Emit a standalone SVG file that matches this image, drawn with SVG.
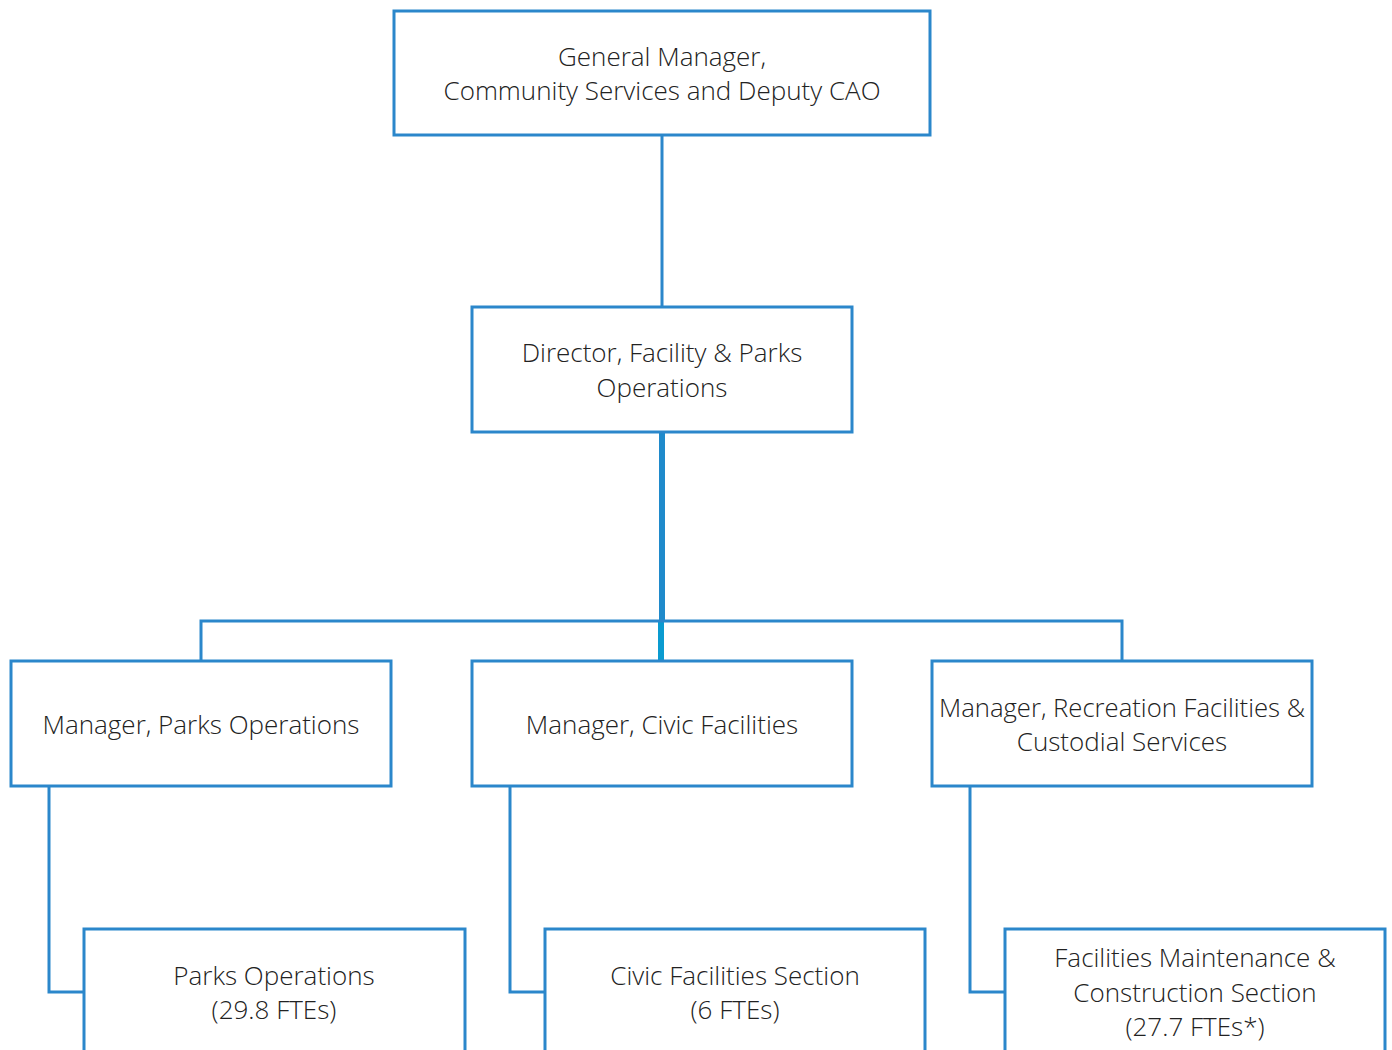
<svg xmlns="http://www.w3.org/2000/svg" width="1392" height="1050" viewBox="0 0 1392 1050">
<style>
.box{fill:#fff;stroke:#2b87cb;stroke-width:3}
.ln{fill:none;stroke:#2b87cb;stroke-width:3}
text{font-family:"Open Sans","Liberation Sans",sans-serif;font-weight:300;font-size:26px;fill:#222;text-anchor:middle;dominant-baseline:central}
</style>
<rect width="1392" height="1050" fill="#fff"/>
<g id="connectors">
<line class="ln" x1="662" y1="135" x2="662" y2="307"/>
<line x1="662" y1="432" x2="662" y2="621" stroke="#1f8acb" stroke-width="6"/>
<line x1="661" y1="621" x2="661" y2="661" stroke="#0a9bd0" stroke-width="6"/>
<polyline class="ln" points="201,661 201,621 1122,621 1122,661"/>
<polyline class="ln" points="49,786 49,992 84,992"/>
<polyline class="ln" points="510,786 510,992 545,992"/>
<polyline class="ln" points="970,786 970,992 1005,992"/>
</g>
<g id="gm">
<rect class="box" x="394" y="11" width="536" height="124"/>
<text x="662" y="56">General Manager,</text>
<text x="662" y="90">Community Services and Deputy CAO</text>
</g>
<g id="director">
<rect class="box" x="472" y="307" width="380" height="125"/>
<text x="662" y="352">Director, Facility &amp; Parks</text>
<text x="662" y="387">Operations</text>
</g>
<g id="mgr-parks">
<rect class="box" x="11" y="661" width="380" height="125"/>
<text x="201" y="724">Manager, Parks Operations</text>
</g>
<g id="mgr-civic">
<rect class="box" x="472" y="661" width="380" height="125"/>
<text x="662" y="724">Manager, Civic Facilities</text>
</g>
<g id="mgr-rec">
<rect class="box" x="932" y="661" width="380" height="125"/>
<text x="1122" y="707" textLength="366" lengthAdjust="spacingAndGlyphs">Manager, Recreation Facilities &amp;</text>
<text x="1122" y="741">Custodial Services</text>
</g>
<g id="parks-ops">
<rect class="box" x="84" y="929" width="381" height="140"/>
<text x="274" y="975">Parks Operations</text>
<text x="274" y="1009">(29.8 FTEs)</text>
</g>
<g id="civic-section">
<rect class="box" x="545" y="929" width="380" height="140"/>
<text x="735" y="975">Civic Facilities Section</text>
<text x="735" y="1009">(6 FTEs)</text>
</g>
<g id="fmc-section">
<rect class="box" x="1005" y="929" width="380" height="140"/>
<text x="1195" y="957">Facilities Maintenance &amp;</text>
<text x="1195" y="992">Construction Section</text>
<text x="1195" y="1026">(27.7 FTEs*)</text>
</g>
</svg>
